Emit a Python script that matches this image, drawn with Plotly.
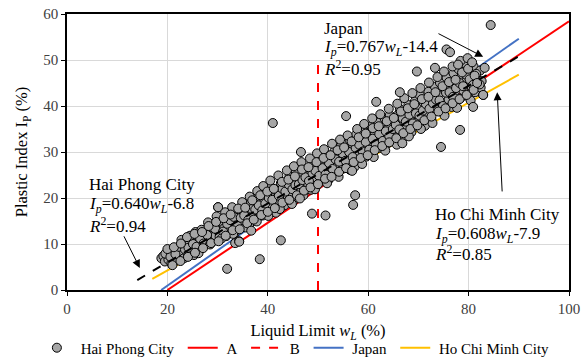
import plotly.graph_objects as go

# ---------------- data ----------------
hp_wl = [
    18.8, 19.2, 19.5, 19.9, 20.2, 20.5,
    20.8, 21.1, 21.4, 21.8, 22.1, 22.5,
    22.8, 23.0, 23.3, 23.7, 24.0, 24.4,
    24.7, 25.0, 25.3, 25.6, 26.0, 26.3,
    26.6, 27.0, 27.3, 27.6, 28.0, 28.3,
    28.6, 29.0, 29.3, 29.6, 30.0, 30.3,
    30.1, 30.6, 31.0, 31.3, 31.7, 32.0,
    32.3, 32.7, 33.0, 33.4, 33.5, 33.8,
    34.0, 34.3, 34.5, 34.8, 35.1, 35.4,
    35.7, 36.0, 36.3, 36.6, 37.0, 37.3,
    37.6, 38.0, 38.3, 38.6, 39.0, 39.3,
    39.6, 40.0, 40.3, 40.6, 41.0, 41.3,
    41.6, 42.0, 42.3, 42.6, 43.0, 43.3,
    43.6, 44.0, 44.3, 44.6, 45.0, 45.3,
    45.6, 46.0, 46.3, 46.6, 47.0, 47.3,
    47.6, 48.0, 48.3, 48.6, 49.0, 49.3,
    49.6, 50.0, 50.3, 50.6, 51.0, 51.3,
    51.6, 52.0, 52.3, 52.6, 53.0, 53.3,
    53.6, 54.0, 54.3, 54.6, 55.0, 55.3,
    55.6, 56.0, 56.3, 56.6, 57.0, 57.3,
    57.6, 58.0, 58.3, 58.6, 59.0, 59.3,
    59.6, 60.0, 60.3, 60.6, 61.0, 61.3,
    61.6, 62.0, 62.3, 62.6, 63.0, 63.3,
    63.6, 64.0, 64.3, 64.6, 65.0, 65.3,
    65.6, 66.0, 66.3, 66.6, 67.0, 67.3,
    67.6, 68.0, 68.3, 68.6, 69.0, 69.3,
    69.6, 70.0, 70.3, 70.6, 71.0, 71.3,
    71.6, 72.0, 72.3, 72.6, 73.0, 73.3,
    73.6, 74.0, 74.3, 74.6, 75.0, 75.3,
    75.6, 76.0, 76.3, 76.6, 77.0, 77.3,
    77.6, 78.0, 78.3, 78.6, 79.0, 79.3,
    79.6, 80.0, 80.3, 80.6, 81.0, 81.3,
    81.6, 82.0, 82.3, 82.6, 82.9, 83.2,
    19.6, 20.6, 21.6, 22.3, 23.5, 24.2,
    25.1, 25.8, 26.5, 27.2, 27.9, 28.8,
    29.5, 30.4, 31.1, 31.9, 32.5, 33.2,
    33.9, 34.6, 35.3, 36.1, 36.8, 37.5,
    38.2, 38.9, 39.5, 40.2, 40.9, 41.5,
    42.2, 42.9, 43.5, 44.2, 44.9, 45.5,
    46.2, 46.9, 47.5, 48.2, 48.9, 49.5,
    50.2, 50.9, 51.5, 52.2, 52.9, 53.5,
    54.2, 54.9, 55.5, 56.2, 56.9, 57.5,
    58.2, 58.9, 59.5, 60.2, 60.9, 61.5,
    62.2, 62.9, 63.5, 64.2, 64.9, 65.5,
    66.2, 66.9, 67.5, 68.2, 68.9, 69.5,
    70.2, 70.9, 71.5, 72.2, 72.9, 73.5,
    74.2, 74.9, 75.5, 76.2, 76.9, 77.5,
    78.2, 78.9, 79.5, 80.2, 80.9, 81.5,
    24.5, 26.8, 28.1, 29.8, 31.5, 32.9,
    34.9, 36.4, 37.9, 39.1, 40.5, 42.1,
    43.8, 45.2, 46.7, 48.4, 49.8, 51.2,
    52.8, 54.4, 55.9, 57.8, 59.2, 60.8,
    62.4, 64.1, 65.8, 67.2, 68.8, 70.4,
    72.1, 73.8, 75.1, 76.8, 78.4, 79.8,
    26.2, 28.5, 30.8, 33.1, 35.6, 37.8,
    40.1, 42.4, 44.8, 47.1, 49.4, 51.8,
    54.1, 56.4, 58.8, 61.1, 63.4, 65.7,
    68.1, 70.5, 72.8, 75.2, 77.7, 80.4,
    20.0, 21.3, 22.7, 23.9, 25.4, 26.9,
    28.2, 29.7, 31.2, 32.6, 34.1, 35.5,
    36.9, 38.5, 39.9, 41.2, 42.8, 44.1,
    45.4, 46.8, 48.1, 49.7, 51.1, 52.5,
    53.9, 55.2, 56.7, 58.1, 59.5, 60.9,
    62.1, 63.7, 65.1, 66.5, 67.9, 69.2,
    70.7, 72.0, 73.4, 74.8, 76.1, 77.4,
    78.7, 79.9, 81.2, 82.4, 80.7, 77.9,
    21.0, 22.6, 24.1, 25.5, 27.1, 28.7,
    30.2, 31.6, 33.0, 34.4, 35.9, 37.2,
    38.7, 40.0, 41.4, 42.9, 44.3, 45.8,
    47.2, 48.5, 50.0, 51.4, 52.7, 54.2,
    55.6, 57.1, 58.5, 59.9, 61.3, 62.8,
    64.2, 65.6, 67.0, 68.4, 69.8, 71.2,
    72.6, 74.0, 75.4, 76.8, 78.2, 79.6,
    81.0, 82.2, 36.7, 46.4, 56.8, 66.8,
    31.9, 38.4, 42.6, 41.0, 46.6, 48.8,
    51.5, 57.0, 57.4, 55.6, 61.6, 66.3,
    69.7, 73.3, 75.6, 76.3, 84.4, 74.5,
    78.3, 80.9, 82.9, 81.7, 34.3, 30.1,
]
hp_ip = [
    6.9, 7.4, 6.2, 8.1, 6.6, 7.8,
    5.8, 8.6, 7.0, 6.4, 8.9, 7.5,
    10.9, 8.2, 6.9, 9.6, 8.0, 10.3,
    8.7, 11.4, 7.6, 12.6, 9.8, 10.8,
    9.0, 11.6, 12.8, 10.2, 13.5, 11.0,
    12.3, 10.5, 14.2, 11.8, 13.0, 15.1,
    18.0, 12.0, 14.6, 13.4, 11.7, 15.8,
    13.0, 16.6, 14.1, 12.4, 10.2, 17.2,
    15.3, 10.6, 13.8, 16.9, 14.6, 18.2,
    15.9, 17.3, 14.2, 19.0, 16.4, 18.1,
    15.4, 20.1, 17.0, 18.8, 16.2, 19.7,
    21.2, 17.6, 19.0, 22.4, 18.3, 20.6,
    16.8, 21.7, 19.4, 23.2, 20.2, 18.4,
    22.5, 20.0, 24.6, 21.3, 19.2, 23.4,
    25.8, 21.9, 23.7, 20.4, 24.9, 22.3,
    26.4, 23.1, 25.0, 21.8, 27.3, 24.2,
    22.6, 26.1, 28.0, 24.4, 27.0, 25.3,
    29.4, 23.8, 26.9, 28.3, 25.6, 30.2,
    27.5, 24.9, 29.1, 31.3, 26.4, 28.6,
    30.4, 27.2, 32.6, 29.5, 31.5, 26.8,
    33.8, 29.9, 28.2, 32.0, 34.6, 30.7,
    29.0, 33.1, 31.4, 35.6, 30.2, 34.0,
    32.5, 36.4, 30.9, 34.8, 33.0, 37.2,
    31.6, 35.3, 38.0, 33.6, 36.5, 32.4,
    37.8, 34.4, 39.3, 36.0, 33.2, 38.6,
    35.2, 40.2, 37.1, 34.3, 38.9, 41.0,
    36.4, 39.6, 42.3, 37.5, 40.8, 35.7,
    38.7, 43.1, 40.0, 37.0, 41.9, 44.2,
    39.3, 42.6, 45.0, 40.7, 38.4, 43.5,
    46.2, 41.4, 44.0, 39.8, 47.1, 42.2,
    44.8, 48.0, 41.6, 46.4, 43.3, 49.2,
    45.6, 42.0, 47.4, 44.2, 48.6, 43.0,
    46.0, 44.5, 47.7, 45.4, 42.4, 48.3,
    7.9, 7.2, 7.8, 9.4, 8.8, 9.2,
    10.0, 9.4, 11.2, 10.1, 12.0, 13.6,
    13.3, 11.6, 12.7, 14.4, 15.2, 15.9,
    14.0, 15.7, 16.2, 15.2, 17.6, 17.5,
    18.4, 17.3, 18.8, 20.0, 19.6, 21.8,
    20.5, 22.0, 21.4, 22.9, 21.9, 22.8,
    23.0, 23.9, 24.5, 23.7, 25.4, 25.9,
    24.8, 26.5, 25.1, 27.6, 26.3, 28.4,
    27.9, 29.7, 28.1, 30.0, 28.9, 30.9,
    31.6, 30.1, 32.2, 30.5, 32.9, 31.7,
    33.9, 32.4, 34.5, 33.4, 35.0, 35.9,
    34.9, 37.3, 36.6, 38.1, 36.2, 38.4,
    37.9, 39.0, 40.4, 39.4, 40.6, 41.4,
    41.2, 40.0, 42.9, 43.0, 42.0, 43.9,
    45.0, 44.3, 46.8, 45.8, 44.6, 47.0,
    11.8, 13.1, 14.7, 16.0, 16.9, 18.0,
    19.1, 20.3, 21.5, 22.6, 23.8, 24.9,
    26.0, 26.9, 27.8, 28.6, 29.7, 30.6,
    31.8, 32.7, 33.6, 35.0, 36.1, 37.3,
    38.2, 39.4, 40.5, 41.7, 42.8, 43.9,
    45.1, 46.3, 47.5, 48.6, 49.8, 50.4,
    8.0, 9.9, 11.2, 12.2, 13.6, 14.9,
    16.1, 17.6, 18.7, 20.6, 21.9, 23.2,
    24.6, 26.1, 27.4, 28.9, 30.3, 31.6,
    33.4, 35.0, 36.3, 37.9, 39.6, 41.2,
    8.9, 9.3, 10.1, 11.5, 12.2, 12.6,
    13.9, 14.8, 15.6, 16.4, 17.7, 17.9,
    19.5, 20.6, 21.4, 22.0, 23.5, 24.0,
    24.7, 26.2, 26.7, 27.8, 28.7, 29.3,
    30.4, 31.0, 32.3, 33.2, 34.0, 35.2,
    35.6, 36.7, 37.4, 38.8, 39.5, 40.4,
    41.5, 42.0, 43.0, 44.3, 45.2, 45.7,
    47.3, 48.1, 46.6, 44.0, 49.5, 49.0,
    5.4, 6.3, 7.2, 8.1, 9.1, 10.2,
    10.6, 11.8, 13.0, 13.2, 14.5, 15.3,
    16.3, 17.0, 17.8, 19.0, 19.6, 20.6,
    21.6, 22.3, 23.0, 24.2, 24.6, 25.7,
    26.5, 27.8, 28.7, 29.3, 30.4, 31.3,
    32.1, 33.0, 34.1, 35.0, 35.8, 36.9,
    37.7, 38.8, 39.5, 40.6, 41.5, 42.4,
    43.5, 44.7, 12.9, 19.9, 25.9, 31.9,
    4.6, 6.7, 10.8, 36.3, 30.0, 16.6,
    16.2, 18.5, 20.6, 37.8, 40.9, 43.0,
    47.5, 48.3, 52.3, 51.7, 57.6, 31.1,
    34.8, 39.8, 42.4, 45.0, 10.5, 18.0,
]

# Line endpoints (wL, Ip)
a_wl = [20, 100]
a_ip = [0, 58.4]
b_wl = [50, 50]
b_ip = [0, 50]
jp_wl = [18.77, 90]
jp_ip = [0, 54.63]
hcm_wl = [17, 90]
hcm_ip = [2.44, 46.82]
hpfit_wl = [14, 90]
hpfit_ip = [2.16, 50.8]

x_ticks = [0, 20, 40, 60, 80, 100]
y_ticks = [0, 10, 20, 30, 40, 50, 60]

FONT = "Liberation Serif, Times New Roman, serif"
NB = "\u00a0"

fig = go.Figure()

fig.add_trace(go.Scatter(x=a_wl, y=a_ip, mode="lines", name=NB + "A" + NB,
                         line=dict(color="#ff0000", width=2), legendrank=2))
fig.add_trace(go.Scatter(x=b_wl, y=b_ip, mode="lines", name=NB + "B" + NB,
                         line=dict(color="#ff0000", width=2, dash="dash"), legendrank=3))
fig.add_trace(go.Scatter(x=jp_wl, y=jp_ip, mode="lines", name=NB + "Japan" + NB,
                         line=dict(color="#4472c4", width=2), legendrank=4))
fig.add_trace(go.Scatter(x=hcm_wl, y=hcm_ip, mode="lines",
                         name=NB + "Ho Chi Minh City",
                         line=dict(color="#ffc000", width=2), legendrank=5))
fig.add_trace(go.Scatter(x=hp_wl, y=hp_ip, mode="markers",
                         name=NB + "Hai Phong City" + NB,
                         marker=dict(size=9, color="#a6a6a6",
                                     line=dict(color="#000000", width=1)),
                         legendrank=1))
fig.add_trace(go.Scatter(x=hpfit_wl, y=hpfit_ip, mode="lines", showlegend=False,
                         line=dict(color="#000000", width=2, dash="dash")))

def text_block(x, ys, lines):
    for y, t in zip(ys, lines):
        fig.add_annotation(x=x, y=y, xref="x", yref="y", text=t, showarrow=False,
                           xanchor="left", yanchor="middle",
                           font=dict(family=FONT, size=17, color="#000000"))

text_block(50.8, [56.9, 52.6, 48.3],
           ["Japan", "<i>I<sub>p</sub></i>=0.767<i>w<sub>L</sub></i>-14.4",
            "<i>R</i><sup>2</sup>=0.95"])
text_block(4.0, [22.9, 18.5, 14.2],
           ["Hai Phong City", "<i>I<sub>p</sub></i>=0.640<i>w<sub>L</sub></i>-6.8",
            "<i>R</i><sup>2</sup>=0.94"])
text_block(72.9, [16.5, 12.0, 8.0],
           ["Ho Chi Minh City", "<i>I<sub>p</sub></i>=0.608<i>w<sub>L</sub></i>-7.9",
            "<i>R</i><sup>2</sup>=0.85"])

for (hx, hy, tx, ty) in [(82.9, 50.7, 73.7, 55.9),
                         (14.5, 4.8, 11.2, 12.0),
                         (85.7, 43.0, 86.7, 21.1)]:
    fig.add_annotation(x=hx, y=hy, ax=tx, ay=ty, xref="x", yref="y",
                       axref="x", ayref="y", text="", showarrow=True,
                       arrowhead=2, arrowsize=1.6, arrowwidth=1, arrowcolor="#000000")

fig.update_layout(
    width=587, height=360,
    margin=dict(l=67, r=18, t=14, b=70, autoexpand=False),
    paper_bgcolor="white", plot_bgcolor="white",
    font=dict(family=FONT, color="#000000"),
    legend=dict(orientation="h", x=-0.06, xanchor="left", y=-0.21, yanchor="middle",
                font=dict(family=FONT, size=15, color="#000000"),
                bgcolor="rgba(0,0,0,0)"),
)
fig.update_xaxes(range=[0, 100], tickvals=x_ticks, showgrid=True, gridcolor="#d9d9d9",
                 gridwidth=1, zeroline=False, showline=True, linecolor="#000000",
                 linewidth=1.5, mirror=True, ticks="outside", ticklen=4,
                 tickcolor="#000000", automargin=False,
                 tickfont=dict(family=FONT, size=15, color="#404040"),
                 title=dict(text="Liquid Limit <i>w<sub>L</sub></i> (%)",
                            font=dict(family=FONT, size=16.5, color="#000000"),
                            standoff=9))
fig.update_yaxes(range=[0, 60], tickvals=y_ticks, showgrid=True, gridcolor="#d9d9d9",
                 gridwidth=1, zeroline=False, showline=True, linecolor="#000000",
                 linewidth=1.5, mirror=True, ticks="outside", ticklen=4,
                 tickcolor="#000000", automargin=False,
                 tickfont=dict(family=FONT, size=15, color="#404040"),
                 title=dict(text="Plastic Index I<sub>P</sub> (%)",
                            font=dict(family=FONT, size=16.5, color="#000000"),
                            standoff=11))

fig.write_html("out.html", config={"displayModeBar": False},
               post_script="document.body.style.margin='0';document.body.style.overflow='hidden';")
